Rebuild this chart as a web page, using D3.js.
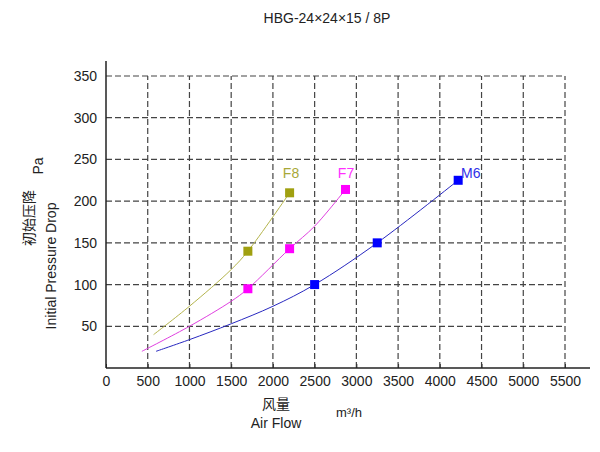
<!DOCTYPE html>
<html>
<head>
<meta charset="utf-8">
<script src="https://cdn.jsdelivr.net/npm/d3@7"></script>
<style>
  body { margin: 0; background: #fff; }
  svg text { font-family: "Liberation Sans", Arial, sans-serif; }
</style>
</head>
<body>
<svg id="chart" width="600" height="452"></svg>
<script>
// data
var xTicks = [0, 500, 1000, 1500, 2000, 2500, 3000, 3500, 4000, 4500, 5000, 5500];
var yTicks = [50, 100, 150, 200, 250, 300, 350];

var m6Flow = [600, 1000, 1500, 2000, 2500, 3250, 4220];
var m6Drop = [20, 34, 53, 74, 100, 150, 225];
var m6MarkFlow = [2500, 3250, 4220];
var m6MarkDrop = [100, 150, 225];

var f7Flow = [430, 1000, 1500, 1700, 2200, 2500, 2870];
var f7Drop = [20, 50, 80, 95, 143, 170, 214];
var f7MarkFlow = [1700, 2200, 2870];
var f7MarkDrop = [95, 143, 214];

var f8Flow = [570, 1000, 1500, 1700, 2200];
var f8Drop = [40, 74, 118, 140, 210];
var f8MarkFlow = [1700, 2200];
var f8MarkDrop = [140, 210];

var series = [
  {name: 'F8', flow: f8Flow, drop: f8Drop, mx: f8MarkFlow, my: f8MarkDrop, line: '#b4b44c', mark: '#a0a010', text: '#a8a838'},
  {name: 'F7', flow: f7Flow, drop: f7Drop, mx: f7MarkFlow, my: f7MarkDrop, line: '#e040e0', mark: '#ff00ff', text: '#ff30ff'},
  {name: 'M6', flow: m6Flow, drop: m6Drop, mx: m6MarkFlow, my: m6MarkDrop, line: '#2828c0', mark: '#0000ff', text: '#3030e8'}
];

var svg = d3.select('#chart');
var x = d3.scaleLinear().domain([0, 5500]).range([106, 565]);
var y = d3.scaleLinear().domain([0, 350]).range([368, 76]);

// title
svg.append('text').attr('x', 327).attr('y', 23).attr('text-anchor', 'middle')
  .style('font-size', '14px').attr('fill', '#222').text('HBG-24×24×15 / 8P');

// grid
var grid = svg.append('g').attr('stroke', '#444').attr('stroke-dasharray', '6,3').attr('stroke-width', 1.2);
grid.selectAll('.vg').data(xTicks.slice(1)).enter().append('line')
  .attr('x1', function(d) { return x(d); }).attr('x2', function(d) { return x(d); })
  .attr('y1', y(0)).attr('y2', y(350));
grid.selectAll('.hg').data(yTicks).enter().append('line')
  .attr('x1', x(0)).attr('x2', x(5500))
  .attr('y1', function(d) { return y(d); }).attr('y2', function(d) { return y(d); });

// axes
var xAxis = d3.axisBottom(x).tickValues(xTicks).tickFormat(d3.format('d')).tickSize(-4).tickPadding(8);
var gx = svg.append('g').attr('transform', 'translate(0,' + y(0) + ')').call(xAxis);
gx.select('.domain').remove();
gx.selectAll('text').style('font-size', '14px').attr('fill', '#222');
gx.selectAll('line').attr('stroke', '#333');

var yAxis = d3.axisLeft(y).tickValues(yTicks).tickSize(0).tickPadding(9);
var gy = svg.append('g').attr('transform', 'translate(' + x(0) + ',0)').call(yAxis);
gy.select('.domain').remove();
gy.selectAll('text').style('font-size', '14px').attr('fill', '#222');

svg.append('line').attr('x1', x(0)).attr('x2', x(0)).attr('y1', 61).attr('y2', y(0))
  .attr('stroke', '#222').attr('stroke-width', 1.5);
svg.append('line').attr('x1', x(0)).attr('x2', 590).attr('y1', y(0)).attr('y2', y(0))
  .attr('stroke', '#222').attr('stroke-width', 1.5);

// curves
var line = d3.line().curve(d3.curveCatmullRom.alpha(0.5))
  .x(function(d) { return x(d[0]); }).y(function(d) { return y(d[1]); });

series.forEach(function(s) {
  var pts = d3.zip(s.flow, s.drop);
  svg.append('path').datum(pts).attr('d', line)
    .attr('fill', 'none').attr('stroke', s.line).attr('stroke-width', 1);
  svg.selectAll(null).data(d3.zip(s.mx, s.my)).enter().append('rect')
    .attr('x', function(d) { return x(d[0]) - 4.5; })
    .attr('y', function(d) { return y(d[1]) - 4.5; })
    .attr('width', 9).attr('height', 9).attr('fill', s.mark);
});

// series labels
svg.append('text').attr('x', 291).attr('y', 178).attr('text-anchor', 'middle')
  .style('font-size', '14px').attr('fill', series[0].text).text('F8');
svg.append('text').attr('x', 346).attr('y', 178).attr('text-anchor', 'middle')
  .style('font-size', '14px').attr('fill', series[1].text).text('F7');
svg.append('text').attr('x', 461).attr('y', 178)
  .style('font-size', '14px').attr('fill', series[2].text).text('M6');

// axis titles
svg.append('text').attr('x', 276).attr('y', 409).attr('text-anchor', 'middle')
  .style('font-size', '14px').style('font-family', '"Noto Sans CJK SC", sans-serif').attr('fill', '#222').text('风量');
svg.append('text').attr('x', 276).attr('y', 428).attr('text-anchor', 'middle')
  .style('font-size', '14px').attr('fill', '#222').text('Air Flow');
svg.append('text').attr('x', 349).attr('y', 417).attr('text-anchor', 'middle')
  .style('font-size', '13px').attr('fill', '#222').text('m³/h');

svg.append('text').attr('transform', 'translate(43,166) rotate(-90)').attr('text-anchor', 'middle')
  .style('font-size', '14px').attr('fill', '#222').text('Pa');
svg.append('text').attr('transform', 'translate(34,218) rotate(-90)').attr('text-anchor', 'middle')
  .style('font-size', '14px').style('font-family', '"Noto Sans CJK SC", sans-serif').attr('fill', '#222').text('初始压降');
svg.append('text').attr('transform', 'translate(56,266) rotate(-90)').attr('text-anchor', 'middle')
  .style('font-size', '14px').attr('fill', '#222').text('Initial Pressure Drop');
</script>
</body>
</html>
